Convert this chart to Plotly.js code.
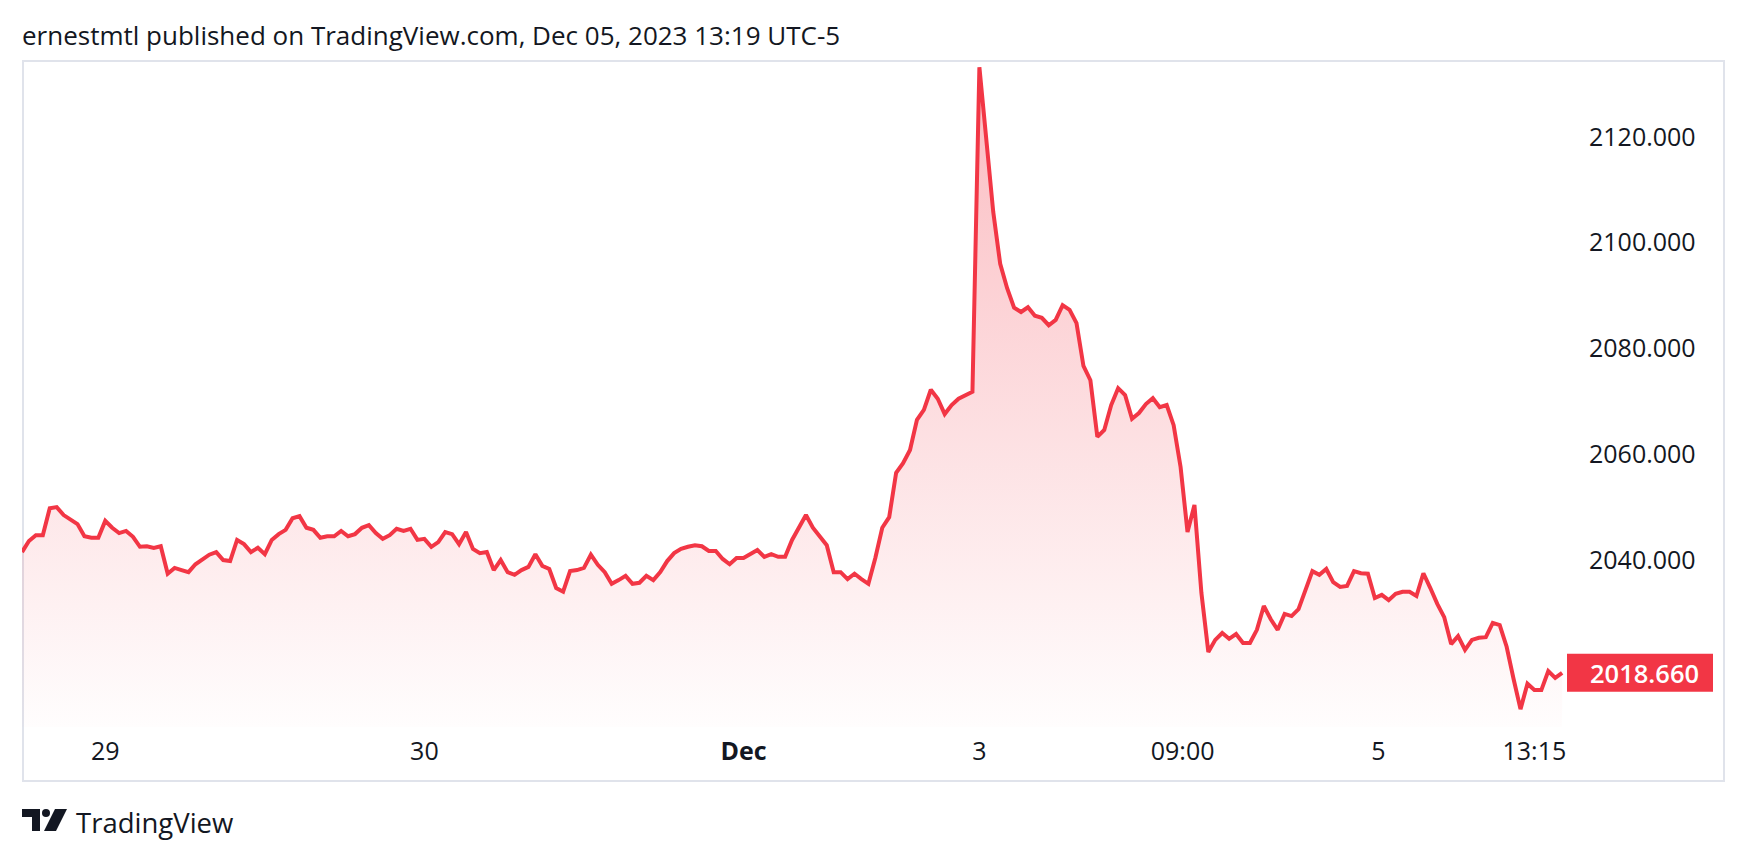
<!DOCTYPE html>
<html>
<head>
<meta charset="utf-8">
<script src="https://cdn.plot.ly/plotly-3.0.1.min.js"></script>
<style>
  html, body { margin: 0; padding: 0; background: #ffffff; }
  #chart { width: 1747px; height: 860px; }
</style>
</head>
<body>
<div id="chart"></div>
<script>
// ---- data (30-minute closes, Nov 28 18:00 -> Dec 5 13:15, UTC-5) ----
const closePrices = [
  2041.5,2043.6,2044.7,2044.7,2049.8,2050.0,2048.5,2047.6,2046.8,2044.5,
  2044.2,2044.2,2047.4,2046.1,2045.1,2045.5,2044.4,2042.5,2042.6,2042.3,
  2042.6,2037.4,2038.5,2038.1,2037.7,2039.2,2040.2,2041.0,2041.5,2040.0,
  2039.8,2043.8,2043.0,2041.5,2042.3,2041.1,2043.8,2044.9,2045.7,2047.9,
  2048.3,2046.1,2045.7,2044.2,2044.5,2044.5,2045.5,2044.5,2044.9,2046.1,
  2046.6,2045.1,2044.0,2044.7,2045.9,2045.5,2045.9,2043.8,2044.0,2042.5,
  2043.4,2045.3,2044.9,2043.0,2045.3,2042.1,2041.3,2041.5,2038.1,2040.0,
  2037.7,2037.2,2038.1,2038.7,2041.1,2038.9,2038.3,2034.7,2034.0,2037.9,
  2038.1,2038.5,2041.0,2039.1,2037.7,2035.5,2036.2,2037.0,2035.5,2035.7,
  2037.0,2036.2,2037.7,2039.8,2041.3,2042.1,2042.5,2042.8,2042.6,2041.7,
  2041.7,2040.2,2039.2,2040.4,2040.4,2041.1,2041.9,2040.6,2041.1,2040.6,
  2040.6,2043.8,2046.2,2048.5,2046.1,2044.5,2042.8,2037.7,2037.7,2036.4,
  2037.4,2036.4,2035.5,2040.4,2046.1,2048.1,2056.5,2058.3,2060.8,2066.5,
  2068.4,2072.2,2070.5,2067.6,2069.3,2070.5,2071.2,2071.8,2133.2,2119.4,
  2105.8,2096.0,2091.4,2087.7,2086.9,2087.8,2086.2,2085.8,2084.4,2085.4,
  2088.2,2087.3,2084.8,2076.7,2074.0,2063.3,2064.6,2069.3,2072.5,2071.2,
  2066.7,2067.8,2069.5,2070.6,2068.9,2069.3,2065.5,2057.6,2045.3,2050.4,
  2033.8,2022.6,2024.9,2026.2,2025.1,2026.0,2024.3,2024.3,2026.8,2031.3,
  2028.8,2026.8,2029.8,2029.4,2030.7,2034.3,2037.9,2037.2,2038.3,2035.8,
  2034.9,2035.1,2037.9,2037.5,2037.4,2032.8,2033.4,2032.4,2033.6,2034.0,
  2034.0,2033.2,2037.5,2034.7,2031.7,2029.2,2024.1,2025.6,2023.0,2024.9,
  2025.3,2025.4,2028.1,2027.7,2023.6,2017.5,2011.8,2016.6,2015.4,2015.4,
  2019.0,2017.7,2018.66
];
const xTickIndex  = [12, 58, 104, 138, 167.3, 195.5, 218];
const xTickLabels = ['29', '30', '<b>Dec</b>', '3', '09:00', '5', '13:15'];
const yTickValues = [2040, 2060, 2080, 2100, 2120];
const titleText = 'ernestmtl published on TradingView.com, Dec 05, 2023 13:19 UTC-5';

// ---- layout geometry ----
const W = 1747, H = 860;
const plotL = 22, plotR = 1567, plotT = 61, plotB = 727;
const xRange = [0, 222.7];
const yRange = [2008.42, 2134.37];
const px2x = p => (p - plotL) / (plotR - plotL);
const py2y = p => (plotB - p) / (plotB - plotT);

const RED = '#f23645';
const TXT = '#131722';
const FONT = 'Open Sans, Noto Sans, sans-serif';

const idx = closePrices.map((_, i) => i);
const last = closePrices[closePrices.length - 1];

const trace = {
  type: 'scatter',
  mode: 'lines',
  x: idx,
  y: closePrices,
  line: { color: RED, width: 4, shape: 'linear' },
  fill: 'tozeroy',
  fillgradient: {
    type: 'vertical',
    start: yRange[0],
    stop: yRange[1],
    colorscale: [[0, 'rgba(242,54,69,0.01)'], [1, 'rgba(242,54,69,0.34)']]
  },
  hoverinfo: 'skip',
  showlegend: false
};

// rounded-corner label box path (right corners rounded)
function boxPath(x0, x1, y0, y1, r) {
  return `M ${x0} ${y0} L ${x1 - r} ${y0} Q ${x1} ${y0} ${x1} ${y0 + r} L ${x1} ${y1 - r} Q ${x1} ${y1} ${x1 - r} ${y1} L ${x0} ${y1} Z`;
}

const shapes = [
  // outer frame
  { type: 'rect', xref: 'paper', yref: 'paper',
    x0: px2x(23), x1: px2x(1724), y0: py2y(781), y1: py2y(61),
    line: { color: '#e0e3eb', width: 2 }, fillcolor: 'rgba(0,0,0,0)', layer: 'below' },
  // last price label box
  { type: 'rect', xref: 'paper', yref: 'y', ysizemode: 'pixel', yanchor: last,
    x0: px2x(1567), x1: px2x(1713), y0: -19, y1: 19,
    line: { width: 0 }, fillcolor: RED },
  // TradingView logo: T
  { type: 'path', xref: 'paper', yref: 'paper',
    path: `M ${px2x(22)} ${py2y(809)} L ${px2x(40)} ${py2y(809)} L ${px2x(40)} ${py2y(831)} L ${px2x(32)} ${py2y(831)} L ${px2x(32)} ${py2y(817)} L ${px2x(22)} ${py2y(817)} Z`,
    fillcolor: TXT, line: { width: 0 } },
  // logo dot
  { type: 'circle', xref: 'paper', yref: 'paper',
    x0: px2x(42), x1: px2x(50), y0: py2y(817), y1: py2y(809),
    fillcolor: TXT, line: { width: 0 } },
  // logo slash
  { type: 'path', xref: 'paper', yref: 'paper',
    path: `M ${px2x(55)} ${py2y(809)} L ${px2x(67)} ${py2y(809)} L ${px2x(56)} ${py2y(831)} L ${px2x(44)} ${py2y(831)} Z`,
    fillcolor: TXT, line: { width: 0 } }
];

const annotations = [
  { xref: 'paper', yref: 'y', x: px2x(1644), y: last, text: last.toFixed(3),
    showarrow: false, xanchor: 'center', yanchor: 'middle',
    font: { family: FONT, size: 25.5, color: '#ffffff', weight: 600 } },
  { xref: 'paper', yref: 'paper', x: px2x(74), y: py2y(822), text: 'TradingView',
    showarrow: false, xanchor: 'left', yanchor: 'middle',
    font: { family: FONT, size: 27.5, color: TXT } }
];

const layout = {
  width: W, height: H,
  paper_bgcolor: '#ffffff', plot_bgcolor: '#ffffff',
  margin: { l: plotL, r: W - plotR, t: plotT, b: H - plotB, pad: 0 },
  font: { family: FONT, color: TXT, size: 25 },
  title: {
    text: titleText,
    xref: 'container', yref: 'container',
    x: 22 / W, xanchor: 'left',
    y: 1 - 36 / H, yanchor: 'middle',
    pad: { l: 0, r: 0, t: 0, b: 0 },
    font: { family: FONT, size: 26, color: TXT }
  },
  xaxis: {
    range: xRange, fixedrange: true,
    showgrid: false, zeroline: false, showline: false, ticks: '',
    tickmode: 'array', tickvals: xTickIndex, ticktext: xTickLabels,
    tickfont: { family: FONT, size: 25, color: TXT },
    ticklabelstandoff: 7
  },
  yaxis: {
    range: yRange, side: 'right', fixedrange: true,
    showgrid: false, zeroline: false, showline: false, ticks: '',
    tickmode: 'array', tickvals: yTickValues, tickformat: '.3f',
    tickfont: { family: FONT, size: 25, color: TXT },
    ticklabelstandoff: 21
  },
  shapes: shapes,
  annotations: annotations,
  showlegend: false
};

Plotly.newPlot('chart', [trace], layout, { displayModeBar: false, staticPlot: true });
</script>
</body>
</html>
